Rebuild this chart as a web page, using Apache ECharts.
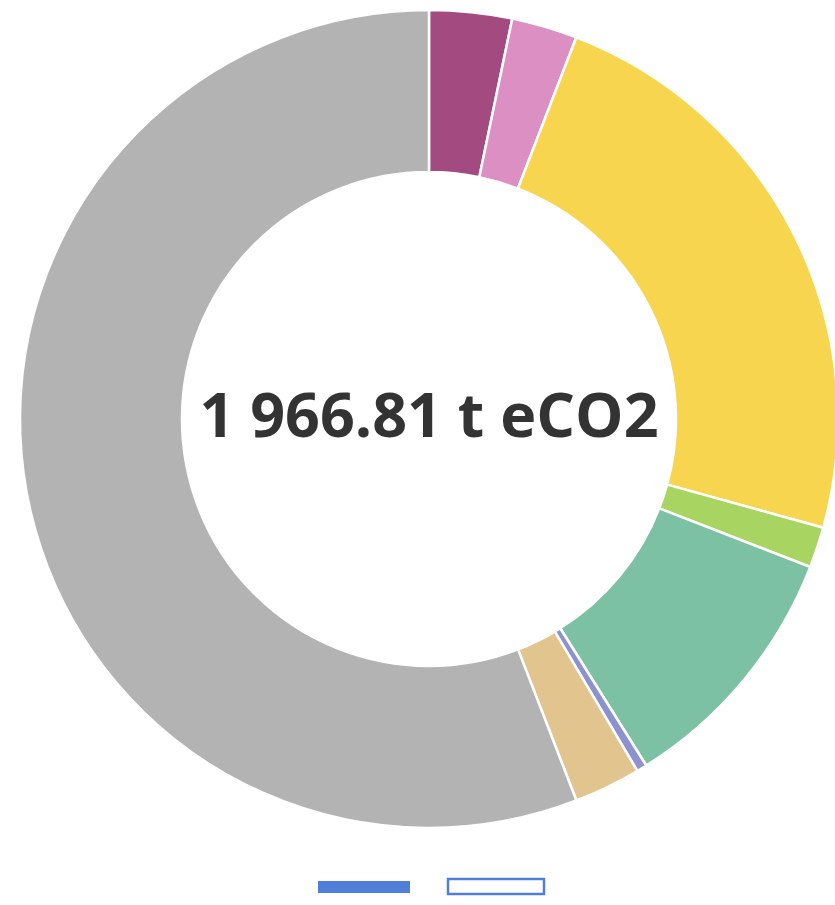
<!DOCTYPE html>
<html>
<head>
<meta charset="utf-8">
<script src="https://cdn.jsdelivr.net/npm/echarts@6/dist/echarts.min.js"></script>
<style>
html,body{margin:0;padding:0;background:#fff;}
#chart{width:835px;height:905px;}
</style>
</head>
<body>
<div id="chart"></div>
<script>
var categories = ['Cat A', 'Cat B', 'Cat C', 'Cat D', 'Cat E', 'Cat F', 'Cat G', 'Cat H'];
var values = [64.2, 51.1, 460.6, 31.7, 200.5, 8.0, 51.9, 1098.81];
var colors = ['#a34a80', '#dc8fc2', '#f8d54f', '#a8d462', '#7dc1a4', '#8c92d0', '#e2c48f', '#b3b3b3'];
var totalLabel = '1 966.81 t eCO2';

var chart = echarts.init(document.getElementById('chart'), null, {renderer: 'canvas'});
var data = categories.map(function (c, i) {
  return {name: c, value: values[i], itemStyle: {color: colors[i]}};
});
chart.setOption({
  animation: false,
  series: [{
    type: 'pie',
    center: [429, 419],
    radius: [247, 409],
    startAngle: 90,
    clockwise: true,
    avoidLabelOverlap: false,
    label: {show: false},
    labelLine: {show: false},
    itemStyle: {borderColor: '#ffffff', borderWidth: 2.5},
    emphasis: {disabled: true},
    data: data
  }],
  graphic: [
    {type: 'text', x: 429, y: 420, style: {text: totalLabel, fill: '#333333', font: 'bold 61px "Open Sans", sans-serif', textAlign: 'center', textVerticalAlign: 'middle'}},
    {type: 'rect', shape: {x: 318, y: 881, width: 92, height: 12}, style: {fill: '#4f7fd9'}},
    {type: 'rect', shape: {x: 448, y: 879, width: 96, height: 15}, style: {fill: '#ffffff', stroke: '#4f7fd9', lineWidth: 2.5}}
  ]
});
</script>
</body>
</html>
